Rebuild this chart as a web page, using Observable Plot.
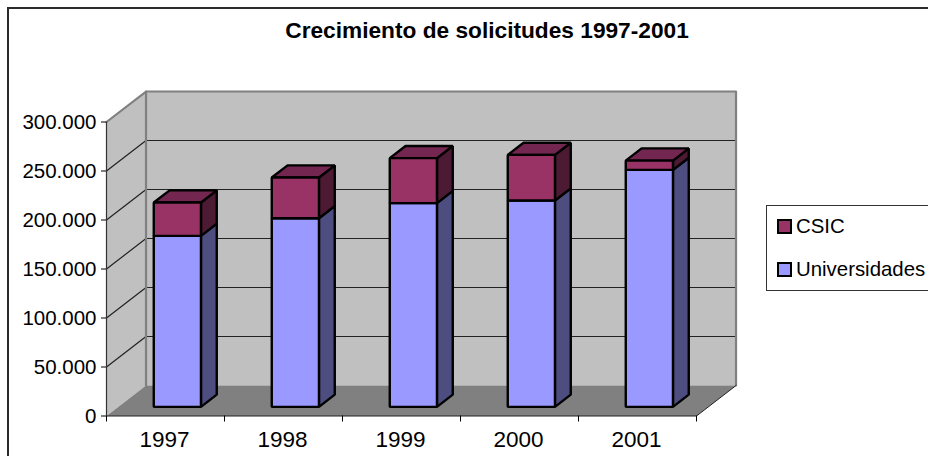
<!DOCTYPE html>
<html>
<head>
<meta charset="utf-8">
<script src="https://cdn.jsdelivr.net/npm/d3@7"></script>
<script src="https://cdn.jsdelivr.net/npm/@observablehq/plot@0.6"></script>
<style>
html,body{margin:0;padding:0;background:#fff;overflow:hidden;width:928px;height:456px}
#wrap{position:relative;width:928px;height:456px;overflow:hidden;font-family:"Liberation Sans",Arial,sans-serif;color:#000}
#frame{position:absolute;left:7px;top:7px;width:1000px;height:600px;border:2px solid #2b2b2b;box-sizing:border-box}
#chart{position:absolute;left:0;top:0}
#legend{position:absolute;left:766px;top:205px;width:200px;height:86px;border:1px solid #333;box-sizing:border-box;background:#fff}
.row{position:absolute;left:0;height:24px;line-height:24px;font-size:20.4px;white-space:nowrap}
.sw{position:absolute;left:10px;top:5px;width:15px;height:15px;border:2.5px solid #000;box-sizing:border-box}
.lb{position:absolute;left:29px;top:0}
</style>
</head>
<body>
<div id="wrap">
<div id="frame"></div>
<div id="chart"></div>
<div id="legend"></div>
</div>
<script>
const title = "Crecimiento de solicitudes 1997-2001";
const years = ["1997", "1998", "1999", "2000", "2001"];
const universidades = [174500, 192500, 207900, 210500, 241800];
const csic = [34000, 41500, 45900, 46600, 9500];
const yTicks = [0, 50000, 100000, 150000, 200000, 250000, 300000];
const seriesNames = ["CSIC", "Universidades"];

const wall = "#c0c0c0", floor = "#808080", edge = "#808080";
const uniColors = {front: "#9999ff", side: "#4d4d80"};
const csicColors = {front: "#993366", side: "#4d1a33", top: "#732650"};

// Oblique depth of the 3-D box, in data units per unit of depth
const depthX = 0.335, depthY = 31100;
const yMax = 300000, nBands = years.length;
const barWidth = 0.4, depthNear = 0.3, depthFar = 0.7;

const pt = (b, v, d) => ({x: b + d * depthX, y: v + d * depthY});
const poly = (id, fill, corners) => corners.map(([b, v, d]) => ({id, fill, ...pt(b, v, d)}));

const back = [
  ...poly("side", wall, [[0,0,0],[0,yMax,0],[0,yMax,1],[0,0,1]]),
  ...poly("back", wall, [[0,0,1],[0,yMax,1],[nBands,yMax,1],[nBands,0,1]]),
  ...poly("floor", floor, [[0,0,0],[0,0,1],[nBands,0,1],[nBands,0,0]])
];
const grid = yTicks.slice(1, -1).flatMap(v => [
  {id: v, ...pt(0, v, 0)}, {id: v, ...pt(0, v, 1)}, {id: v, ...pt(nBands, v, 1)}
]);
const wallEdge = [
  {id: "e", ...pt(0, 0, 1)}, {id: "e", ...pt(0, yMax, 1)}, {id: "e", ...pt(0, yMax, 0)},
  {id: "f", ...pt(0, yMax, 1)}, {id: "f", ...pt(nBands, yMax, 1)}, {id: "f", ...pt(nBands, 0, 1)}
];
const floorEdge = [pt(nBands, 0, 0), pt(nBands, 0, 1)];

const faces = years.flatMap((yr, i) => {
  const l = i + (1 - barWidth) / 2, r = l + barWidth;
  const n = depthNear, f = depthFar;
  const u = universidades[i], t = u + csic[i];
  return [
    ...poly(yr + "us", uniColors.side, [[r,0,n],[r,u,n],[r,u,f],[r,0,f]]),
    ...poly(yr + "uf", uniColors.front, [[l,0,n],[l,u,n],[r,u,n],[r,0,n]]),
    ...poly(yr + "cs", csicColors.side, [[r,u,n],[r,t,n],[r,t,f],[r,u,f]]),
    ...poly(yr + "ct", csicColors.top, [[l,t,n],[l,t,f],[r,t,f],[r,t,n]]),
    ...poly(yr + "cf", csicColors.front, [[l,u,n],[l,t,n],[r,t,n],[r,u,n]])
  ];
});

const thousands = d3.formatLocale({decimal: ",", thousands: ".", grouping: [3], currency: ["", ""]}).format(",");
const font = '"Liberation Sans",Arial,sans-serif';

const plot = Plot.plot({
  width: 928, height: 456,
  marginLeft: 106, marginRight: 232, marginTop: 121.5, marginBottom: 40.5,
  style: {background: "transparent", fontFamily: font, color: "#000", overflow: "visible"},
  x: {type: "linear", domain: [0, nBands], label: null},
  y: {type: "linear", domain: [0, yMax], label: null},
  marks: [
    Plot.line(back, {x: "x", y: "y", z: "id", fill: "fill", stroke: "none", curve: "linear-closed"}),
    Plot.line(grid, {x: "x", y: "y", z: "id", stroke: "#222", strokeWidth: 1.2}),
    Plot.line(wallEdge, {x: "x", y: "y", z: "id", stroke: edge, strokeWidth: 2.2}),
    Plot.line(floorEdge, {x: "x", y: "y", stroke: "#222", strokeWidth: 1}),
    Plot.ruleX([0], {y1: 0, y2: yMax, stroke: "#333", strokeWidth: 1.2}),
    Plot.ruleY([0], {x1: 0, x2: nBands, stroke: "#222", strokeWidth: 1.2}),
    Plot.line(faces, {x: "x", y: "y", z: "id", fill: "fill", stroke: "#000", strokeWidth: 2.4, strokeLinejoin: "miter", curve: "linear-closed"}),
    Plot.axisY({ticks: yTicks, tickFormat: thousands, tickSize: 5, tickPadding: 5, fontSize: 20.5, label: null, anchor: "left"}),
    Plot.axisX({ticks: d3.range(nBands + 1), tickFormat: () => null, tickSize: 6, label: null, anchor: "bottom"}),
    Plot.axisX({ticks: years.map((_, i) => i + 0.5), tickFormat: d => years[d - 0.5], tickSize: 0, tickPadding: 15, fontSize: 22.5, dx: -1, label: null, anchor: "bottom"}),
    Plot.text([title], {frameAnchor: "top", dy: -100.5, dx: 85.5, fontSize: 22.7, fontWeight: "bold", textAnchor: "middle"})
  ]
});
document.getElementById("chart").appendChild(plot);

const legend = document.getElementById("legend");
[[seriesNames[0], csicColors.front, 8], [seriesNames[1], uniColors.front, 51]].forEach(([name, color, top]) => {
  const row = document.createElement("div");
  row.className = "row";
  row.style.top = top + "px";
  row.innerHTML = `<span class="sw" style="background:${color}"></span><span class="lb">${name}</span>`;
  legend.appendChild(row);
});
</script>
</body>
</html>
